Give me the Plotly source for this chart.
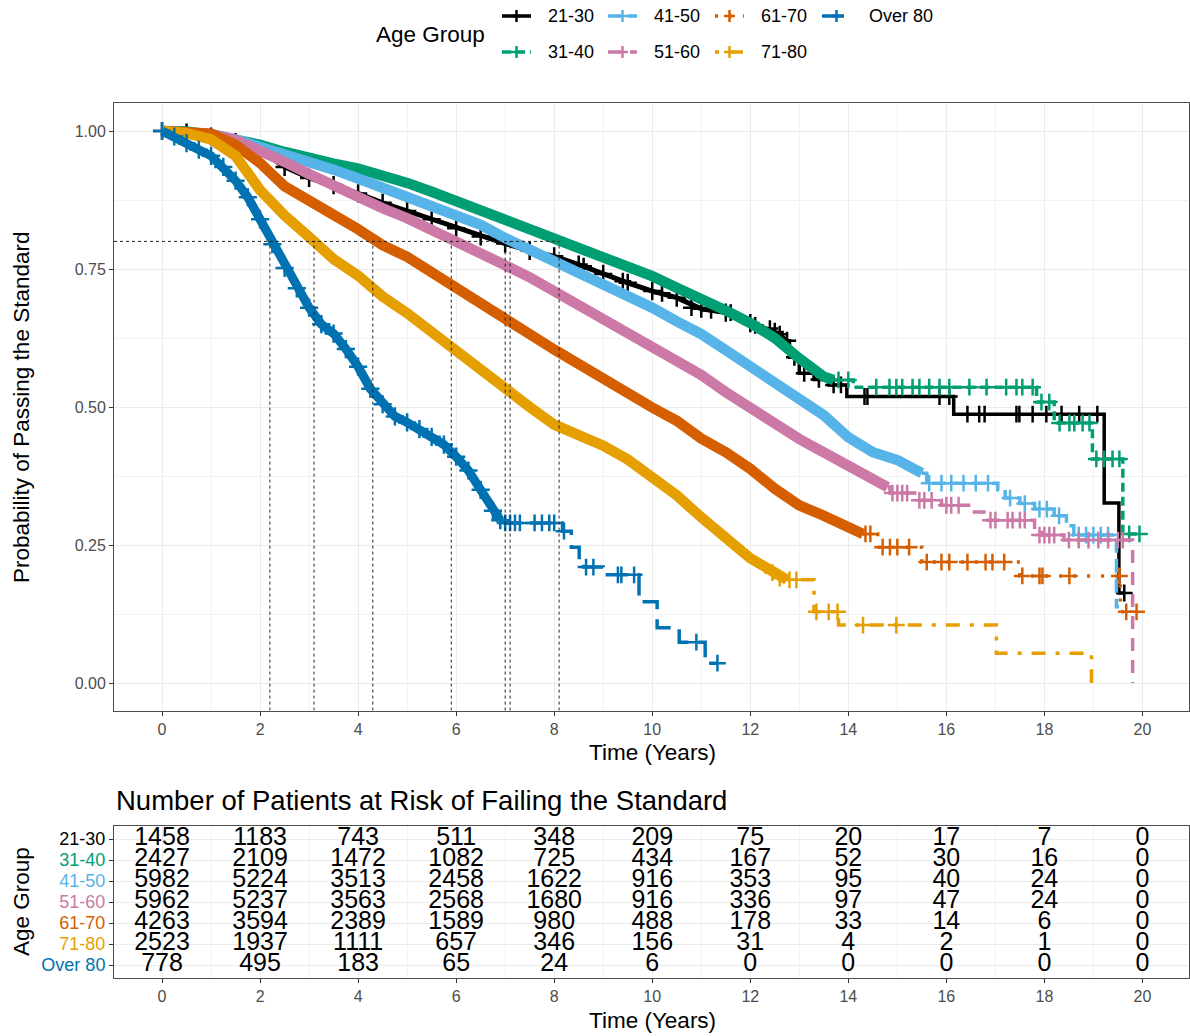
import plotly.graph_objects as go

# ---------------- data ----------------
groups = ["21-30", "31-40", "41-50", "51-60", "61-70", "71-80", "Over 80"]
colors = ["#000000", "#009E73", "#56B4E9", "#CC79A7", "#D55E00", "#E69F00", "#0072B2"]
dashes = ["solid", "9px,5px", "14px,6px", "13px,9px", "3px,11px", "4px,10px,14px,10px", "22px,10px"]

# dense part of each survival curve (time in years, survival probability)
t_body_21_30 = [0, 0.5, 1, 1.5, 2, 2.5, 3, 3.5, 4, 4.5, 5, 5.5, 6, 6.5, 7, 7.5, 8, 8.5, 9, 9.5, 10, 10.5, 11, 11.5, 12, 12.5, 12.75]
s_body_21_30 = [1.0, 0.997, 0.99, 0.98, 0.965, 0.935, 0.915, 0.902, 0.887, 0.87, 0.855, 0.84, 0.824, 0.809, 0.796, 0.783, 0.773, 0.758, 0.741, 0.725, 0.71, 0.698, 0.678, 0.671, 0.652, 0.636, 0.62]
t_body_31_40 = [0, 0.5, 1, 1.5, 2, 2.5, 3, 3.5, 4, 4.5, 5, 5.5, 6, 6.5, 7, 7.5, 8, 8.5, 9, 9.5, 10, 10.5, 11, 11.5, 12, 12.5, 13, 13.5, 13.7]
s_body_31_40 = [1.0, 0.999, 0.993, 0.985, 0.975, 0.962, 0.95, 0.941, 0.932, 0.92, 0.906, 0.89, 0.873, 0.857, 0.843, 0.826, 0.805, 0.79, 0.773, 0.756, 0.737, 0.716, 0.697, 0.675, 0.652, 0.625, 0.588, 0.555, 0.549]
t_body_41_50 = [0, 0.5, 1, 1.5, 2, 2.5, 3, 3.5, 4, 4.5, 5, 5.5, 6, 6.5, 7, 7.5, 8, 8.5, 9, 9.5, 10, 10.5, 11, 11.5, 12, 12.5, 13, 13.5, 14, 14.5, 15, 15.5]
s_body_41_50 = [1.0, 0.999, 0.994, 0.985, 0.972, 0.958, 0.945, 0.93, 0.914, 0.898, 0.882, 0.867, 0.85, 0.83, 0.806, 0.785, 0.764, 0.745, 0.726, 0.704, 0.68, 0.655, 0.632, 0.603, 0.573, 0.548, 0.518, 0.485, 0.445, 0.418, 0.404, 0.38]
t_body_51_60 = [0, 0.5, 1, 1.5, 2, 2.5, 3, 3.5, 4, 4.5, 5, 5.5, 6, 6.5, 7, 7.5, 8, 8.5, 9, 9.5, 10, 10.5, 11, 11.5, 12, 12.5, 13, 13.5, 14, 14.5, 14.8]
s_body_51_60 = [1.0, 0.999, 0.994, 0.984, 0.966, 0.944, 0.922, 0.9, 0.879, 0.86, 0.842, 0.822, 0.797, 0.778, 0.757, 0.735, 0.71, 0.685, 0.66, 0.637, 0.612, 0.585, 0.558, 0.527, 0.497, 0.47, 0.442, 0.418, 0.395, 0.372, 0.355]
t_body_61_70 = [0, 0.5, 1, 1.5, 2, 2.5, 3, 3.5, 4, 4.5, 5, 5.5, 6, 6.5, 7, 7.5, 8, 8.5, 9, 9.5, 10, 10.5, 11, 11.5, 12, 12.5, 13, 13.5, 14, 14.3]
s_body_61_70 = [1.0, 0.999, 0.995, 0.975, 0.942, 0.9, 0.872, 0.848, 0.822, 0.793, 0.772, 0.745, 0.718, 0.69, 0.66, 0.632, 0.604, 0.577, 0.55, 0.525, 0.499, 0.475, 0.443, 0.418, 0.388, 0.352, 0.322, 0.303, 0.282, 0.27]
t_body_71_80 = [0, 0.5, 1, 1.5, 2, 2.5, 3, 3.5, 4, 4.5, 5, 5.5, 6, 6.5, 7, 7.5, 8, 8.5, 9, 9.5, 10, 10.5, 11, 11.5, 12, 12.5, 12.75]
s_body_71_80 = [1.0, 0.996, 0.985, 0.955, 0.893, 0.847, 0.808, 0.768, 0.738, 0.7, 0.67, 0.635, 0.6, 0.565, 0.533, 0.5, 0.468, 0.45, 0.43, 0.405, 0.375, 0.34, 0.3, 0.265, 0.226, 0.2, 0.187]
t_body_over80 = [0, 0.25, 0.5, 0.75, 1, 1.25, 1.5, 1.75, 2, 2.25, 2.5, 2.75, 3, 3.25, 3.5, 3.75, 4, 4.25, 4.5, 4.75, 5, 5.25, 5.5, 5.75, 6, 6.25, 6.5, 6.75, 6.9]
s_body_over80 = [1.0, 0.99, 0.978, 0.966, 0.955, 0.935, 0.91, 0.88, 0.84, 0.795, 0.752, 0.715, 0.68, 0.65, 0.633, 0.605, 0.573, 0.533, 0.505, 0.483, 0.472, 0.46, 0.446, 0.432, 0.41, 0.385, 0.35, 0.312, 0.295]

# sparse tails (step functions)
t_tail_21_30 = [12.75, 12.8, 13.0, 13.3, 13.6, 13.97, 16.15, 19.22, 19.52, 19.63]
s_tail_21_30 = [0.62, 0.59, 0.561, 0.55, 0.54, 0.519, 0.487, 0.326, 0.163, 0.163]
t_tail_31_40 = [13.7, 14.1, 17.84, 18.2, 18.98, 19.6, 19.94]
s_tail_31_40 = [0.549, 0.536, 0.509, 0.471, 0.406, 0.27, 0.27]
t_tail_41_50 = [15.5, 15.6, 17.05, 17.2, 17.5, 17.8, 18.2, 18.45, 18.6, 19.47, 19.52]
s_tail_41_50 = [0.38, 0.362, 0.35, 0.335, 0.325, 0.315, 0.303, 0.285, 0.268, 0.138, 0.138]
t_tail_51_60 = [14.8, 14.85, 15.4, 15.9, 16.5, 16.85, 17.8, 17.95, 18.4, 19.8]
s_tail_51_60 = [0.355, 0.344, 0.331, 0.322, 0.31, 0.295, 0.279, 0.268, 0.259, 0.0]
t_tail_61_70 = [14.3, 14.6, 15.5, 17.5, 19.55, 20.0]
s_tail_61_70 = [0.27, 0.246, 0.219, 0.194, 0.129, 0.129]
t_tail_71_80 = [12.75, 13.3, 13.8, 17.02, 18.96]
s_tail_71_80 = [0.187, 0.129, 0.105, 0.054, 0.0]
t_tail_over80 = [6.9, 7.0, 8.17, 8.35, 8.51, 8.6, 9.0, 9.73, 10.1, 10.55, 11.08, 11.33]
s_tail_over80 = [0.295, 0.29, 0.275, 0.246, 0.223, 0.21, 0.196, 0.147, 0.1, 0.074, 0.036, 0.036]

# censoring marks
t_cens_21_30 = [8.6, 9.4, 10.2, 10.8, 11.2, 11.6, 12.1, 12.4, 12.6, 12.9, 13.1, 13.4, 13.7, 13.85, 14.33, 14.39, 15.86, 16.06, 16.43, 16.67, 16.78, 17.43, 17.49, 17.76, 18.04, 18.35, 18.71, 19.08, 19.63]
s_cens_21_30 = [0.755, 0.728, 0.706, 0.68, 0.675, 0.671, 0.648, 0.642, 0.632, 0.59, 0.561, 0.55, 0.54, 0.54, 0.519, 0.519, 0.519, 0.519, 0.487, 0.487, 0.487, 0.487, 0.487, 0.487, 0.487, 0.487, 0.487, 0.487, 0.163]
t_cens_31_40 = [13.8, 14.0, 14.57, 14.84, 14.98, 15.1, 15.31, 15.45, 15.65, 15.86, 16.06, 16.47, 16.82, 17.22, 17.43, 17.55, 17.76, 17.94, 18.1, 18.31, 18.51, 18.61, 18.78, 18.92, 19.06, 19.22, 19.39, 19.53, 19.73, 19.94]
s_cens_31_40 = [0.549, 0.549, 0.536, 0.536, 0.536, 0.536, 0.536, 0.536, 0.536, 0.536, 0.536, 0.536, 0.536, 0.536, 0.536, 0.536, 0.536, 0.509, 0.509, 0.471, 0.471, 0.471, 0.471, 0.471, 0.406, 0.406, 0.406, 0.406, 0.27, 0.27]
t_cens_41_50 = [15.65, 15.9, 16.1, 16.35, 16.6, 16.85, 17.3, 17.6, 17.9, 18.05, 18.3, 18.7, 18.85, 19.0, 19.15, 19.3]
s_cens_41_50 = [0.362, 0.362, 0.362, 0.362, 0.362, 0.362, 0.335, 0.325, 0.315, 0.315, 0.303, 0.268, 0.268, 0.268, 0.268, 0.268]
t_cens_51_60 = [14.9, 15.0, 15.1, 15.2, 15.45, 15.55, 15.7, 16.0, 16.1, 16.25, 16.9, 17.0, 17.25, 17.35, 17.5, 17.6, 17.9, 18.0, 18.1, 18.2, 18.5, 18.7, 18.9, 19.1, 19.3, 19.5, 19.6]
s_cens_51_60 = [0.344, 0.344, 0.344, 0.344, 0.331, 0.331, 0.331, 0.322, 0.322, 0.322, 0.295, 0.295, 0.295, 0.295, 0.295, 0.295, 0.268, 0.268, 0.268, 0.268, 0.259, 0.259, 0.259, 0.259, 0.259, 0.259, 0.259]
t_cens_61_70 = [14.35, 14.45, 14.7, 14.85, 15.0, 15.24, 15.6, 15.9, 16.06, 16.43, 16.8, 16.94, 17.18, 17.55, 17.9, 17.96, 18.51, 19.53, 19.67, 19.88]
s_cens_61_70 = [0.27, 0.27, 0.246, 0.246, 0.246, 0.246, 0.219, 0.219, 0.219, 0.219, 0.219, 0.219, 0.219, 0.194, 0.194, 0.194, 0.194, 0.194, 0.129, 0.129]
t_cens_71_80 = [12.45, 12.6, 12.8, 12.94, 13.35, 13.6, 13.78, 14.3, 14.98]
s_cens_71_80 = [0.2, 0.19, 0.187, 0.187, 0.129, 0.129, 0.129, 0.105, 0.105]
t_cens_over80 = [7.0, 7.1, 7.2, 7.3, 7.6, 7.75, 7.9, 8.0, 8.2, 8.65, 8.8, 9.3, 9.37, 9.63, 10.9, 11.33]
s_cens_over80 = [0.29, 0.29, 0.29, 0.29, 0.29, 0.29, 0.29, 0.29, 0.275, 0.21, 0.21, 0.196, 0.196, 0.196, 0.074, 0.036]

# time at which each curve reaches 0.8 probability
median_level = 0.8
median_times = [2.2, 3.1, 4.3, 5.9, 7.0, 7.1, 8.1]

# number at risk table
risk_times = [0, 2, 4, 6, 8, 10, 12, 14, 16, 18, 20]
risk_21_30 = [1458, 1183, 743, 511, 348, 209, 75, 20, 17, 7, 0]
risk_31_40 = [2427, 2109, 1472, 1082, 725, 434, 167, 52, 30, 16, 0]
risk_41_50 = [5982, 5224, 3513, 2458, 1622, 916, 353, 95, 40, 24, 0]
risk_51_60 = [5962, 5237, 3563, 2568, 1680, 916, 336, 97, 47, 24, 0]
risk_61_70 = [4263, 3594, 2389, 1589, 980, 488, 178, 33, 14, 6, 0]
risk_71_80 = [2523, 1937, 1111, 657, 346, 156, 31, 4, 2, 1, 0]
risk_over80 = [778, 495, 183, 65, 24, 6, 0, 0, 0, 0, 0]

x_ticks = [0, 2, 4, 6, 8, 10, 12, 14, 16, 18, 20]
y_ticks = [0, 0.25, 0.5, 0.75, 1.0]
y_tick_labels = ["0.00", "0.25", "0.50", "0.75", "1.00"]

# ---------------- assemble ----------------
bodies = [(t_body_21_30, s_body_21_30), (t_body_31_40, s_body_31_40), (t_body_41_50, s_body_41_50),
          (t_body_51_60, s_body_51_60), (t_body_61_70, s_body_61_70), (t_body_71_80, s_body_71_80),
          (t_body_over80, s_body_over80)]
tails = [(t_tail_21_30, s_tail_21_30), (t_tail_31_40, s_tail_31_40), (t_tail_41_50, s_tail_41_50),
         (t_tail_51_60, s_tail_51_60), (t_tail_61_70, s_tail_61_70), (t_tail_71_80, s_tail_71_80),
         (t_tail_over80, s_tail_over80)]
cens = [(t_cens_21_30, s_cens_21_30), (t_cens_31_40, s_cens_31_40), (t_cens_41_50, s_cens_41_50),
        (t_cens_51_60, s_cens_51_60), (t_cens_61_70, s_cens_61_70), (t_cens_71_80, s_cens_71_80),
        (t_cens_over80, s_cens_over80)]
risks = [risk_21_30, risk_31_40, risk_41_50, risk_51_60, risk_61_70, risk_71_80, risk_over80]
body_widths = [5, 10.5, 10.5, 10.5, 10.5, 10.5, 9]
body_marks = [True, False, False, False, False, False, True]

FONT = "Liberation Sans, Arial, sans-serif"
W, H = 1190, 1036


def px(x):
    return x / W


def py(y):
    return 1 - y / H


fig = go.Figure()

for i, g in enumerate(groups):
    c = colors[i]
    bt, bs = bodies[i]
    fig.add_trace(go.Scatter(
        x=bt, y=bs, mode="lines+markers" if body_marks[i] else "lines", xaxis="x", yaxis="y",
        line=dict(color=c, width=body_widths[i]),
        marker=dict(symbol="cross-thin", size=13, line=dict(width=2.5, color=c)),
        showlegend=False, hoverinfo="skip"))
    tt, ts = tails[i]
    fig.add_trace(go.Scatter(
        x=tt, y=ts, mode="lines", xaxis="x", yaxis="y",
        line=dict(color=c, width=3.5, dash=dashes[i], shape="hv"),
        showlegend=False, hoverinfo="skip"))
    ct, cs = cens[i]
    fig.add_trace(go.Scatter(
        x=ct, y=cs, mode="markers", xaxis="x", yaxis="y",
        marker=dict(symbol="cross-thin", size=12, line=dict(width=2.5, color=c)),
        showlegend=False, hoverinfo="skip"))

# risk table text
for i, g in enumerate(groups):
    fig.add_trace(go.Scatter(
        x=risk_times, y=[g] * len(risk_times), mode="text", xaxis="x2", yaxis="y2",
        text=[str(v) for v in risks[i]],
        textfont=dict(family=FONT, size=25, color="#000000"),
        textposition="middle center", showlegend=False, hoverinfo="skip"))

# reference dashed lines at 0.8
shapes = []
XMIN, XMAX = -0.98, 20.95
YMIN, YMAX = -0.05, 1.05
shapes.append(dict(type="line", xref="x", yref="y", x0=XMIN, x1=max(median_times),
                   y0=median_level, y1=median_level,
                   line=dict(color="#222222", width=1, dash="3px,3px"), layer="above"))
for mt in median_times:
    shapes.append(dict(type="line", xref="x", yref="y", x0=mt, x1=mt, y0=YMIN, y1=median_level,
                       line=dict(color="#222222", width=1, dash="3px,3px"), layer="above"))

# manual legend
annotations = []
key_x = [502, 608, 715, 822]
lab_x = [546, 652, 759, 867]
row_y = [16, 52]
legend_pos = [(0, 0), (0, 1), (1, 0), (1, 1), (2, 0), (2, 1), (3, 0)]
for i, g in enumerate(groups):
    col, row = legend_pos[i]
    x0 = key_x[col]
    y0 = row_y[row]
    shapes.append(dict(type="line", xref="paper", yref="paper",
                       x0=px(x0), x1=px(x0 + 29), y0=py(y0), y1=py(y0),
                       line=dict(color=colors[i], width=3.5, dash=dashes[i])))
    shapes.append(dict(type="line", xref="paper", yref="paper",
                       x0=px(x0 + 9), x1=px(x0 + 20), y0=py(y0), y1=py(y0),
                       line=dict(color=colors[i], width=2.5)))
    shapes.append(dict(type="line", xref="paper", yref="paper",
                       x0=px(x0 + 14.5), x1=px(x0 + 14.5), y0=py(y0 - 6), y1=py(y0 + 6),
                       line=dict(color=colors[i], width=2.5)))
    annotations.append(dict(text=g, xref="paper", yref="paper", x=px(lab_x[col]), y=py(y0),
                            xanchor="left", yanchor="middle", showarrow=False,
                            font=dict(family=FONT, size=18, color="#000000")))
annotations.append(dict(text="Age Group", xref="paper", yref="paper", x=px(430), y=py(35),
                        xanchor="center", yanchor="middle", showarrow=False,
                        font=dict(family=FONT, size=22.5, color="#000000")))

# titles
annotations += [
    dict(text="Probability of Passing the Standard", xref="paper", yref="paper",
         x=px(21), y=py(408), textangle=-90, xanchor="center", yanchor="middle",
         showarrow=False, font=dict(family=FONT, size=22.5, color="#000000")),
    dict(text="Time (Years)", xref="paper", yref="paper", x=px(652), y=py(752),
         xanchor="center", yanchor="middle", showarrow=False,
         font=dict(family=FONT, size=22.5, color="#000000")),
    dict(text="Number of Patients at Risk of Failing the Standard", xref="paper", yref="paper",
         x=px(114), y=py(800), xanchor="left", yanchor="middle", showarrow=False,
         font=dict(family=FONT, size=27.5, color="#000000")),
    dict(text="Age Group", xref="paper", yref="paper", x=px(21), y=py(902), textangle=-90,
         xanchor="center", yanchor="middle", showarrow=False,
         font=dict(family=FONT, size=22.5, color="#000000")),
    dict(text="Time (Years)", xref="paper", yref="paper", x=px(652), y=py(1020),
         xanchor="center", yanchor="middle", showarrow=False,
         font=dict(family=FONT, size=22.5, color="#000000")),
]

axis_common = dict(
    showline=True, mirror=True, linecolor="#4d4d4d", linewidth=1,
    ticks="outside", ticklen=4, tickwidth=1, tickcolor="#333333",
    tickfont=dict(family=FONT, size=16, color="#4D4D4D"),
    showgrid=True, gridcolor="#EBEBEB", gridwidth=1.4, zeroline=False,
)

x_dom = [px(114), px(1189)]
fig.update_layout(
    width=W, height=H,
    margin=dict(l=0, r=0, t=0, b=0),
    paper_bgcolor="white", plot_bgcolor="white",
    font=dict(family=FONT),
    showlegend=False,
    xaxis=dict(domain=x_dom, range=[XMIN, XMAX], anchor="y", tickvals=x_ticks,
               ticktext=[str(v) for v in x_ticks],
               minor=dict(dtick=1, tick0=1, showgrid=True, gridcolor="#F2F2F2", gridwidth=0.8, ticks=""),
               **axis_common),
    yaxis=dict(domain=[py(710.6), py(103.4)], range=[YMIN, YMAX], anchor="x",
               tickvals=y_ticks, ticktext=y_tick_labels,
               minor=dict(dtick=0.125, tick0=0.125, showgrid=True, gridcolor="#F2F2F2", gridwidth=0.8, ticks=""),
               **axis_common),
    xaxis2=dict(domain=x_dom, range=[XMIN, XMAX], anchor="y2", tickvals=x_ticks,
                ticktext=[str(v) for v in x_ticks],
                minor=dict(dtick=1, tick0=1, showgrid=True, gridcolor="#F2F2F2", gridwidth=0.8, ticks=""),
                **axis_common),
    yaxis2=dict(domain=[py(977.6), py(826.4)], anchor="x2", type="category",
                categoryorder="array", categoryarray=groups, range=[6.6, -0.6],
                tickvals=groups,
                ticktext=[f"<span style='color:{colors[i]}'>{g}</span>" for i, g in enumerate(groups)],
                **{k: v for k, v in axis_common.items() if k != "tickfont"},
                tickfont=dict(family=FONT, size=18, color="#000000")),
    shapes=shapes,
    annotations=annotations,
)

fig.write_html("out.html")
